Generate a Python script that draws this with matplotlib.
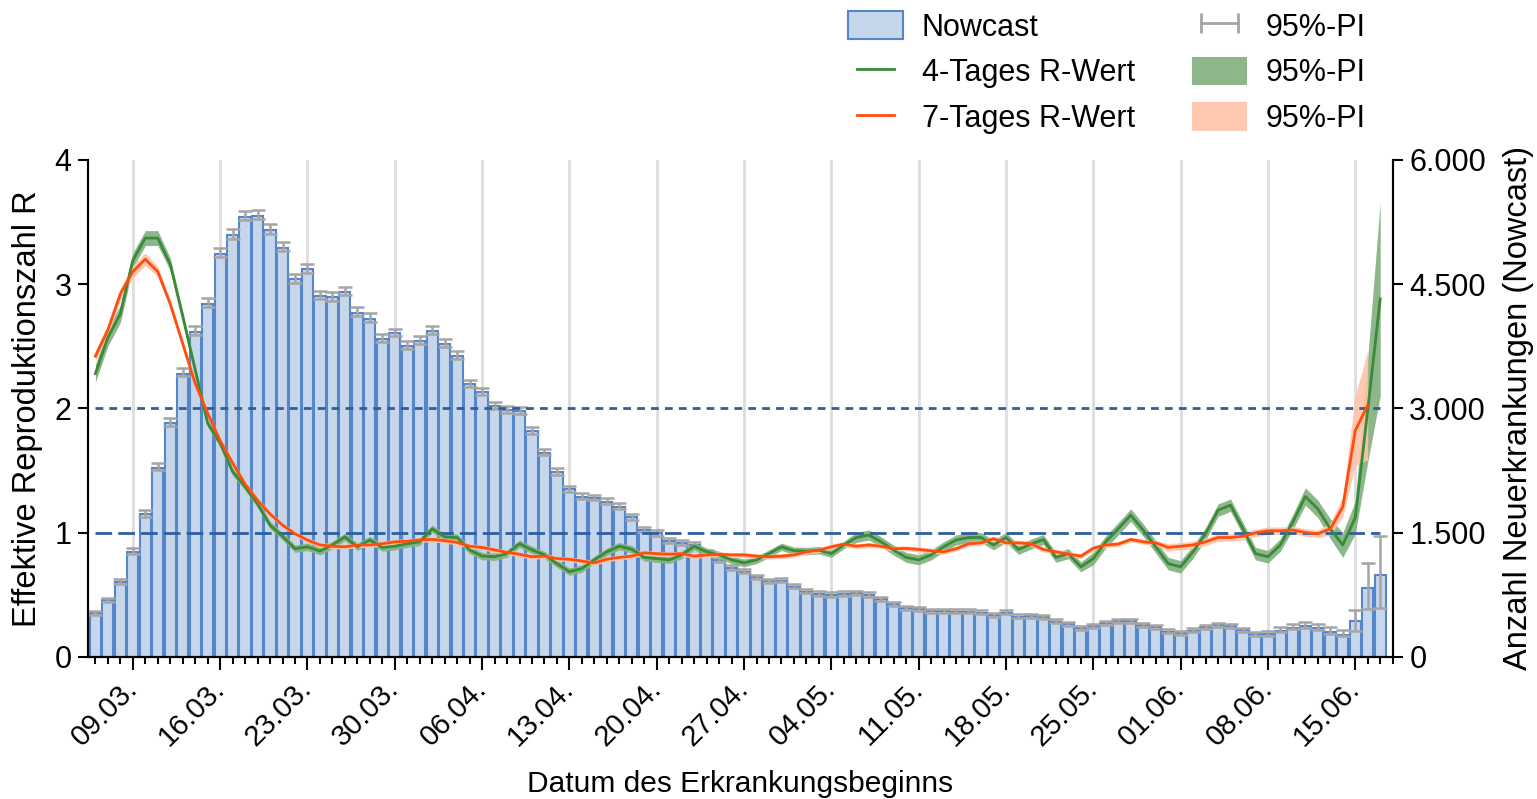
import matplotlib
matplotlib.use('Agg')
import matplotlib.pyplot as plt
import matplotlib.dates as mdates
from matplotlib.patches import Patch
from matplotlib.lines import Line2D
from matplotlib.ticker import FuncFormatter
import numpy as np
import pandas as pd

plt.rcParams['font.family'] = ['Liberation Sans', 'DejaVu Sans']

start = '2020-03-06'

# Nowcast: new cases per day of onset, with 95% PI (up / down)
nowcast = [524, 684, 898, 1267, 1719, 2281, 2824, 3420, 3923, 4265,
           4868, 5089, 5310, 5320, 5150, 4941, 4555, 4676, 4357, 4340,
           4405, 4152, 4084, 3831, 3903, 3750, 3810, 3930, 3774, 3629,
           3291, 3191, 3026, 2977, 2965, 2724, 2462, 2229, 2020, 1931,
           1912, 1871, 1810, 1682, 1529, 1489, 1400, 1369, 1348, 1248,
           1167, 1067, 1026, 958, 910, 917, 845, 785, 757, 745,
           757, 765, 745, 693, 636, 584, 572, 552, 552, 543,
           543, 531, 503, 531, 483, 491, 475, 422, 395, 343,
           370, 403, 431, 431, 382, 355, 302, 282, 314, 355,
           382, 370, 322, 274, 274, 314, 352, 372, 342, 298,
           262, 435, 826, 986]
err_up = [25, 30, 35, 45, 50, 55, 60, 65, 70, 70,
          70, 70, 70, 70, 70, 70, 65, 65, 65, 65,
          65, 65, 65, 60, 60, 60, 60, 60, 60, 60,
          55, 55, 55, 55, 55, 50, 50, 50, 45, 45,
          45, 45, 45, 45, 40, 40, 40, 40, 40, 40,
          35, 35, 35, 35, 35, 35, 35, 35, 35, 35,
          35, 35, 35, 30, 30, 30, 30, 30, 30, 30,
          30, 30, 30, 30, 30, 30, 30, 30, 30, 30,
          30, 30, 30, 30, 30, 30, 30, 30, 30, 30,
          30, 30, 30, 30, 35, 40, 45, 50, 55, 60,
          65, 130, 310, 470]
err_dn = [20, 20, 25, 25, 30, 30, 35, 35, 40, 40,
          40, 40, 40, 40, 40, 40, 40, 40, 40, 40,
          40, 40, 40, 35, 35, 35, 35, 35, 35, 35,
          35, 35, 30, 30, 30, 30, 30, 30, 30, 30,
          25, 25, 25, 25, 25, 25, 25, 25, 25, 25,
          20, 20, 20, 20, 20, 20, 20, 20, 20, 20,
          20, 20, 20, 20, 20, 20, 20, 20, 20, 20,
          20, 20, 20, 20, 20, 20, 20, 20, 20, 20,
          20, 20, 20, 20, 20, 20, 20, 20, 20, 20,
          20, 20, 20, 20, 20, 20, 20, 20, 20, 20,
          15, 120, 245, 395]

# 4-day R value and half width of its 95% PI
r4 = [2.28, 2.57, 2.76, 3.19, 3.37, 3.37, 3.16, 2.74, 2.31, 1.88,
      1.72, 1.49, 1.37, 1.23, 1.06, 0.97, 0.87, 0.885, 0.85, 0.90,
      0.965, 0.885, 0.94, 0.88, 0.89, 0.91, 0.925, 1.03, 0.965, 0.96,
      0.86, 0.81, 0.805, 0.83, 0.91, 0.86, 0.82, 0.75, 0.685, 0.71,
      0.78, 0.845, 0.89, 0.865, 0.80, 0.79, 0.78, 0.82, 0.89, 0.845,
      0.82, 0.78, 0.756, 0.78, 0.83, 0.885, 0.853, 0.85, 0.858, 0.83,
      0.90, 0.96, 0.98, 0.925, 0.858, 0.80, 0.78, 0.82, 0.885, 0.94,
      0.96, 0.96, 0.90, 0.96, 0.864, 0.907, 0.944, 0.80, 0.83, 0.724,
      0.79, 0.925, 1.03, 1.14, 1.02, 0.885, 0.75, 0.724, 0.845, 0.99,
      1.18, 1.22, 1.03, 0.83, 0.805, 0.90, 1.086, 1.29, 1.19, 1.03,
      0.90, 1.12, 1.985, 2.88]
r4_pi = [0.07, 0.07, 0.07, 0.06, 0.06, 0.06, 0.05, 0.04, 0.04, 0.03,
         0.03, 0.03, 0.03, 0.03, 0.03, 0.03, 0.03, 0.03, 0.03, 0.03,
         0.03, 0.03, 0.03, 0.03, 0.03, 0.03, 0.03, 0.03, 0.03, 0.03,
         0.03, 0.03, 0.03, 0.03, 0.03, 0.03, 0.03, 0.03, 0.03, 0.03,
         0.03, 0.03, 0.03, 0.03, 0.03, 0.03, 0.03, 0.03, 0.03, 0.03,
         0.03, 0.03, 0.03, 0.03, 0.03, 0.03, 0.03, 0.03, 0.03, 0.03,
         0.03, 0.04, 0.04, 0.04, 0.04, 0.04, 0.04, 0.04, 0.04, 0.04,
         0.04, 0.04, 0.04, 0.04, 0.04, 0.04, 0.04, 0.04, 0.04, 0.04,
         0.05, 0.05, 0.05, 0.05, 0.05, 0.05, 0.05, 0.05, 0.05, 0.05,
         0.05, 0.05, 0.05, 0.05, 0.05, 0.05, 0.06, 0.07, 0.07, 0.08,
         0.10, 0.13, 0.42, 0.78]

# 7-day R value and half width of its 95% PI
r7 = [2.42, 2.63, 2.92, 3.10, 3.20, 3.10, 2.84, 2.52, 2.20, 1.96,
      1.74, 1.56, 1.39, 1.26, 1.15, 1.06, 0.99, 0.94, 0.90, 0.89,
      0.885, 0.90, 0.90, 0.91, 0.925, 0.93, 0.94, 0.945, 0.935, 0.92,
      0.89, 0.88, 0.86, 0.84, 0.825, 0.805, 0.81, 0.79, 0.785, 0.77,
      0.756, 0.785, 0.80, 0.81, 0.837, 0.83, 0.826, 0.83, 0.81, 0.82,
      0.825, 0.82, 0.82, 0.81, 0.805, 0.81, 0.82, 0.845, 0.858, 0.885,
      0.907, 0.89, 0.90, 0.89, 0.87, 0.872, 0.864, 0.853, 0.845, 0.87,
      0.91, 0.917, 0.95, 0.917, 0.917, 0.91, 0.864, 0.845, 0.826, 0.81,
      0.874, 0.90, 0.907, 0.944, 0.925, 0.917, 0.88, 0.89, 0.90, 0.925,
      0.96, 0.96, 0.97, 0.998, 1.014, 1.014, 1.02, 1.0, 0.99, 1.03,
      1.207, 1.82, 2.025]
r7_pi = [0.04, 0.05, 0.05, 0.05, 0.05, 0.04, 0.03, 0.03, 0.03, 0.02,
         0.02, 0.02, 0.02, 0.02, 0.02, 0.02, 0.02, 0.02, 0.02, 0.02,
         0.02, 0.02, 0.02, 0.02, 0.02, 0.02, 0.02, 0.02, 0.02, 0.02,
         0.02, 0.02, 0.02, 0.02, 0.02, 0.02, 0.02, 0.02, 0.02, 0.02,
         0.02, 0.02, 0.02, 0.02, 0.02, 0.02, 0.02, 0.02, 0.02, 0.02,
         0.02, 0.02, 0.02, 0.02, 0.02, 0.02, 0.02, 0.02, 0.02, 0.02,
         0.02, 0.02, 0.02, 0.02, 0.02, 0.02, 0.02, 0.02, 0.02, 0.02,
         0.02, 0.02, 0.02, 0.02, 0.02, 0.02, 0.02, 0.02, 0.02, 0.02,
         0.02, 0.02, 0.02, 0.02, 0.02, 0.02, 0.03, 0.03, 0.03, 0.03,
         0.03, 0.03, 0.03, 0.03, 0.03, 0.03, 0.03, 0.03, 0.03, 0.05,
         0.08, 0.28, 0.44]

days = pd.date_range(start, periods=len(nowcast), freq='D')
r4 = np.array(r4)
r4_pi = np.array(r4_pi)
r7 = np.array(r7)
r7_pi = np.array(r7_pi)
days7 = days[:len(r7)]

bar_fill = '#C6D7EC'
bar_edge = '#5586C9'
green = '#3A8A38'
green_band = '#86B384'
orange = '#FF4D0D'
orange_band = '#FFC2A8'
grey = '#A5A5A5'
dash_blue = '#2F5E9E'

fig = plt.figure(figsize=(15.37, 7.99), dpi=100)
ax1 = fig.add_axes([0.0575, 0.178, 0.8486, 0.622])
ax2 = ax1.twinx()

# bars (right axis)
ax1.bar(days, nowcast, width=0.9, color=bar_fill, edgecolor=bar_edge, linewidth=1.5, zorder=2)
ax1.errorbar(days, nowcast, yerr=[err_dn, err_up], fmt='none', ecolor=grey,
             elinewidth=1.8, capsize=5, capthick=1.8, zorder=3)
ax1.set_ylim(0, 6000)
ax1.set_yticks([0, 1500, 3000, 4500, 6000])
ax1.yaxis.set_major_formatter(FuncFormatter(lambda v, p: f'{int(v):,}'.replace(',', '.')))
ax1.yaxis.tick_right()
ax1.yaxis.set_label_position('right')
ax1.set_ylabel('Anzahl Neuerkrankungen (Nowcast)', fontsize=23.5, labelpad=12)

ax1.set_xlim(days[0] - pd.Timedelta(hours=13.5), days[-1] + pd.Timedelta(days=1))
ax1.xaxis.set_major_locator(mdates.WeekdayLocator(byweekday=mdates.MO))
ax1.xaxis.set_minor_locator(mdates.DayLocator())
ax1.xaxis.set_major_formatter(mdates.DateFormatter('%d.%m.'))
ax1.grid(axis='x', which='major', color='#DDDDDD', linewidth=2)
ax1.set_axisbelow(True)
for lab in ax1.get_xticklabels():
    lab.set_rotation(45)
    lab.set_ha('right')
    lab.set_va('center')
    lab.set_rotation_mode('anchor')
ax1.set_xlabel('Datum des Erkrankungsbeginns', fontsize=21.5, labelpad=13)

# R values (left axis)
ax2.fill_between(days, r4 - r4_pi, r4 + r4_pi, color=green_band, alpha=0.95, lw=0, zorder=1)
ax2.fill_between(days7, r7 - r7_pi, r7 + r7_pi, color=orange_band, alpha=0.9, lw=0, zorder=2)
ax2.hlines(1, days[0], days[-1], colors=dash_blue, linewidth=2, linestyles=(0, (6, 2.2)), zorder=3)
ax2.hlines(2, days[0], days[-1], colors=dash_blue, linewidth=2, linestyles=(0, (2.8, 2.2)), zorder=3)
ax2.plot(days, r4, color=green, lw=2, zorder=4)
ax2.plot(days7, r7, color=orange, lw=2, zorder=5)
ax2.set_ylim(0, 4)
ax2.set_yticks([0, 1, 2, 3, 4])
ax2.yaxis.tick_left()
ax2.yaxis.set_label_position('left')
ax2.set_ylabel('Effektive Reproduktionszahl R', fontsize=23.5, labelpad=8)

for ax in (ax1, ax2):
    ax.spines['top'].set_visible(False)
    for s in ('left', 'right', 'bottom'):
        ax.spines[s].set_linewidth(1.5)
    ax.tick_params(axis='y', labelsize=22, width=1.5, length=7, pad=5)
ax1.tick_params(axis='x', which='major', labelsize=21, width=1.5, length=9, pad=11)
ax1.tick_params(axis='x', which='minor', width=1.5, length=5)

handles = [
    Patch(facecolor=bar_fill, edgecolor=bar_edge, linewidth=1.5),
    Line2D([], [], color=green, lw=2),
    Line2D([], [], color=orange, lw=2),
    Line2D([], [], color=grey, lw=2, marker='|', markersize=14, markeredgewidth=2),
    Patch(facecolor=green_band, alpha=0.95, lw=0),
    Patch(facecolor=orange_band, alpha=0.9, lw=0),
]
labels = ['Nowcast', '4-Tages R-Wert', '7-Tages R-Wert', '95%-PI', '95%-PI', '95%-PI']
fig.legend(handles, labels, ncol=2, loc='upper left', bbox_to_anchor=(848 / 1537, 1 - 11 / 799),
           frameon=False, fontsize=22, numpoints=2, handlelength=1.8, handleheight=1.05,
           handletextpad=0.62, labelspacing=0.46, columnspacing=1.86, borderpad=0, borderaxespad=0)

fig.savefig('out.png', dpi=100)
